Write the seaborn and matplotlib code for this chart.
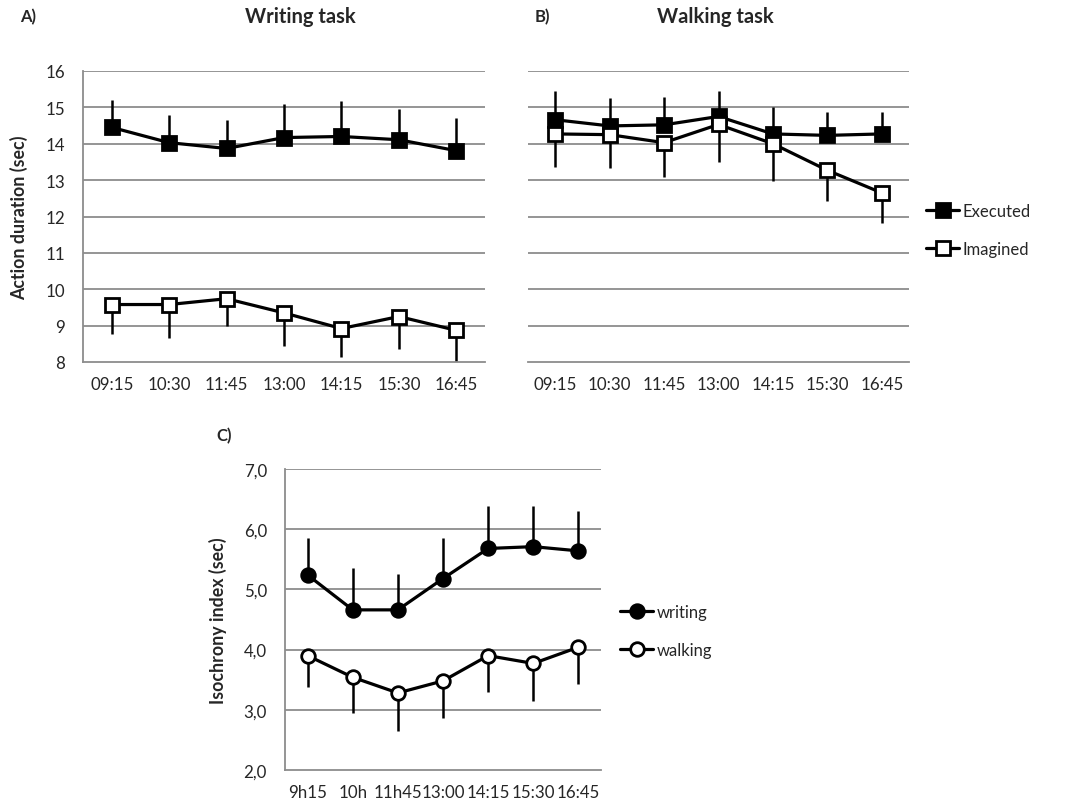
import numpy as np
import pandas as pd
import matplotlib
matplotlib.use("Agg")
import matplotlib.pyplot as plt
import seaborn as sns
from matplotlib.lines import Line2D
from matplotlib.ticker import FuncFormatter

# ---------------- data ----------------
times_ab = ["09:15", "10:30", "11:45", "13:00", "14:15", "15:30", "16:45"]
times_c = ["9h15", "10h", "11h45", "13:00", "14:15", "15:30", "16:45"]

writing_executed = [14.45, 14.03, 13.87, 14.17, 14.20, 14.11, 13.81]
writing_executed_err = [0.75, 0.76, 0.79, 0.93, 0.98, 0.84, 0.89]
writing_imagined = [9.58, 9.58, 9.74, 9.35, 8.92, 9.25, 8.87]
writing_imagined_err = [0.80, 0.91, 0.75, 0.92, 0.78, 0.90, 0.87]

walking_executed = [14.66, 14.49, 14.52, 14.75, 14.27, 14.23, 14.27]
walking_executed_err = [0.80, 0.76, 0.76, 0.70, 0.73, 0.64, 0.60]
walking_imagined = [14.27, 14.25, 14.03, 14.53, 14.00, 13.27, 12.65]
walking_imagined_err = [0.90, 0.91, 0.95, 1.04, 1.02, 0.85, 0.84]

iso_writing = [5.24, 4.66, 4.66, 5.18, 5.68, 5.71, 5.64]
iso_writing_err = [0.62, 0.70, 0.60, 0.68, 0.70, 0.67, 0.66]
iso_walking = [3.90, 3.54, 3.28, 3.48, 3.90, 3.77, 4.04]
iso_walking_err = [0.52, 0.59, 0.63, 0.61, 0.60, 0.62, 0.61]

# ---------------- style ----------------
sns.set_theme(style="white")
FONT = ["Lato", "DejaVu Sans"]
plt.rcParams["font.family"] = FONT
GRID = "#8c8c8c"
TXT = "#262626"

W, H = 1090, 812
fig = plt.figure(figsize=(W / 100, H / 100), dpi=100)


def fbox(x0, y0, x1, y1):
    return [x0 / W, 1 - y1 / H, (x1 - x0) / W, (y1 - y0) / H]


axA = fig.add_axes(fbox(83, 72, 485, 363))
axB = fig.add_axes(fbox(528, 72, 909, 363))
axC = fig.add_axes(fbox(285, 470, 601, 771))

LW = 2.3
MS = 9.8
EW = 1.8


def draw_series(ax, vals, errs, direction, marker, filled):
    x = np.arange(len(vals))
    vals = np.asarray(vals)
    errs = np.asarray(errs)
    end = vals + errs if direction == "up" else vals - errs
    ax.vlines(x, vals, end, color="black", lw=EW, zorder=2)
    df = pd.DataFrame({"x": x, "y": vals})
    sns.lineplot(data=df, x="x", y="y", ax=ax, color="black", lw=LW,
                 marker=marker, markersize=MS,
                 markerfacecolor="black" if filled else "white",
                 markeredgecolor="black", markeredgewidth=2.0,
                 zorder=3, legend=False)


def style_axes(ax, labels, ylim, yticks, show_left=True, fmt=None):
    n = len(labels)
    ax.set_xlim(-0.5, n - 0.5)
    ax.set_ylim(*ylim)
    ax.set_xticks(np.arange(n))
    ax.set_xticklabels(labels, fontsize=12.2, color=TXT)
    ax.set_xticks(np.arange(-0.5, n, 1.0), minor=True)
    ax.tick_params(axis="x", which="major", length=0, pad=10)
    ax.tick_params(axis="x", which="minor", length=5, width=1.2,
                   color=GRID, direction="out")
    ax.set_yticks(yticks)
    for y in yticks[1:]:
        ax.axhline(y, color=GRID, lw=1.3, zorder=1)
    for s in ["top", "right"]:
        ax.spines[s].set_visible(False)
    ax.spines["bottom"].set_color(GRID)
    ax.spines["bottom"].set_linewidth(1.3)
    if show_left:
        ax.spines["left"].set_color(GRID)
        ax.spines["left"].set_linewidth(1.3)
        ax.tick_params(axis="y", length=5, width=1.2, color=GRID,
                       direction="out", labelsize=12.2, labelcolor=TXT, pad=8)
        if fmt is not None:
            ax.yaxis.set_major_formatter(fmt)
    else:
        ax.spines["left"].set_visible(False)
        ax.tick_params(axis="y", length=0, labelleft=False)
    ax.set_xlabel("")
    ax.set_ylabel("")
    ax.grid(False)


# Panel A
draw_series(axA, writing_executed, writing_executed_err, "up", "s", True)
draw_series(axA, writing_imagined, writing_imagined_err, "down", "s", False)
style_axes(axA, times_ab, (8, 16), list(range(8, 17)))
axA.set_ylabel("Action duration (sec)", fontsize=12.8, fontweight="bold",
               color=TXT, labelpad=12)

# Panel B
draw_series(axB, walking_executed, walking_executed_err, "up", "s", True)
draw_series(axB, walking_imagined, walking_imagined_err, "down", "s", False)
style_axes(axB, times_ab, (8, 16), list(range(8, 17)), show_left=False)

# Panel C
draw_series(axC, iso_writing, iso_writing_err, "up", "o", True)
draw_series(axC, iso_walking, iso_walking_err, "down", "o", False)
style_axes(axC, times_c, (2, 7), [2, 3, 4, 5, 6, 7],
           fmt=FuncFormatter(lambda v, p: f"{v:.1f}".replace(".", ",")))
axC.set_ylabel("Isochrony index (sec)", fontsize=12.8, fontweight="bold",
               color=TXT, labelpad=12)

# Titles and panel letters
fig.text(300 / W, 1 - 17 / H, "Writing task", fontsize=14.5,
         fontweight="bold", ha="center", va="center", color=TXT)
fig.text(715 / W, 1 - 17 / H, "Walking task", fontsize=14.5,
         fontweight="bold", ha="center", va="center", color=TXT)
fig.text(20 / W, 1 - 17 / H, "A)", fontsize=12, fontweight="bold",
         ha="left", va="center", color=TXT)
fig.text(535 / W, 1 - 17 / H, "B)", fontsize=12, fontweight="bold",
         ha="left", va="center", color=TXT)
fig.text(216 / W, 1 - 436 / H, "C)", fontsize=12, fontweight="bold",
         ha="left", va="center", color=TXT)


def handle(marker, filled):
    return Line2D([0], [0], color="black", lw=LW, marker=marker,
                  markersize=MS, markerfacecolor="black" if filled else "white",
                  markeredgecolor="black", markeredgewidth=2.0)


fig.legend([handle("s", True), handle("s", False)], ["Executed", "Imagined"],
           loc="center left", bbox_to_anchor=(926 / W, 1 - 231 / H),
           frameon=False, fontsize=12, handlelength=2.0, handletextpad=0.2,
           labelspacing=1.35, borderpad=0, borderaxespad=0)
fig.legend([handle("o", True), handle("o", False)], ["writing", "walking"],
           loc="center left", bbox_to_anchor=(620 / W, 1 - 632 / H),
           frameon=False, fontsize=12, handlelength=2.0, handletextpad=0.2,
           labelspacing=1.3, borderpad=0, borderaxespad=0)

fig.savefig("out.png", dpi=100, facecolor="white")
